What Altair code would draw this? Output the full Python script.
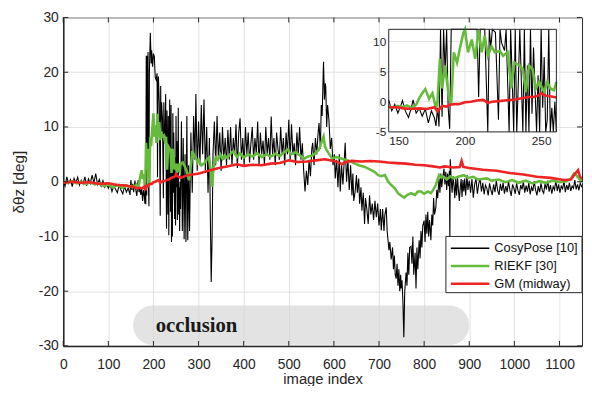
import altair as alt
import pandas as pd

COSY = "CosyPose [10]"
RIEKF = "RIEKF [30]"
GM = "GM (midway)"
series_names = [COSY, RIEKF, GM]
series_colors = ["#000000", "#66bb3c", "#ee2424"]

cosy_points = [
    (0,0.2),(4,-0.8),(8,0.9),(12,-0.3),(16,0.4),(20,-0.9),(24,0.6),(28,-0.2),(32,0.8),(36,-0.6),
    (40,0.3),(44,-0.4),(48,0.9),(52,-0.7),(56,0.5),(60,-0.3),(64,1.2),(68,-0.2),(72,1.5),(76,-0.5),
    (80,0.4),(84,-0.8),(88,0.2),(92,-1.0),(96,-0.3),(100,-1.2),(104,-0.5),(108,-1.8),(112,-0.7),(116,-1.4),
    (120,-2.0),(124,-0.6),(128,-1.5),(132,-2.2),(136,-0.8),(140,-1.9),(144,-1.1),(148,-2.4),
    (150,0.3),(152,-1.5),(154,-0.4),(156,-1.9),(158,-0.6),(159,0.2),(161,-1.6),(163,-2.6),(165,-0.8),(166,0.3),
    (168,-1.9),(170,-1.1),(172,-2.4),(174,-1.2),(176,-3.5),(178,-1.5),(180,-2.7),(181,-4.0),(182,-1.0),(183,-4.1),
    (184,23.0),(185,-2.5),(186,23.0),(187,5.0),(188,23.7),(189,-1.0),(190,-4.5),(191,20.0),(193,27.2),(195,21.6),
    (196,24.0),(198,21.0),(200,23.4),(202,22.8),(204,19.0),(206,18.6),(208,19.8),(209,0.8),(210,17.5),(211,19.2),
    (213,14.0),(215,-6.2),(216,17.5),(217,9.0),(218,14.5),(220,11.5),(222,-3.0),(223,14.5),(224,9.8),(226,8.5),
    (227,16.0),(229,-8.6),(230,13.0),(231,4.0),(232,-6.0),(233,12.0),(234,-9.8),(235,3.0),(236,15.0),(238,-5.5),
    (239,14.0),(240,-11.0),(241,6.0),(242,-10.0),(243,12.5),(244,-2.0),(245,9.0),(247,-6.8),(248,4.4),(249,-8.0),
    (250,12.0),(251,-1.0),(252,7.4),(253,-7.0),(254,-3.0),(255,13.5),(256,-6.0),(257,-1.0),(258,-9.0),(259,0.0),
    (260,-5.0),(262,11.0),(264,-9.0),(266,8.0),(268,-10.5),(270,5.0),(272,-11.0),(274,12.0),(276,-10.7),(278,3.0),
    (280,-9.0),(283,9.0),(286,-2.0),(289,12.0),(292,4.0),(294,16.0),(297,2.0),(300,11.0),(303,3.0),(306,14.0),
    (309,5.0),(312,15.0),(315,2.0),(318,10.0),(321,-2.0),(324,8.0),(326,-6.0),(328,-18.3),(330,-10.0),(332,5.0),
    (335,11.0),(338,3.0),(341,12.0),(344,4.0),(347,9.0),(350,2.0),(353,10.0),(356,4.0),(359,8.0),(362,3.0),
    (365,9.5),(368,4.0),(371,10.0),(374,3.0),(377,8.0),(380,5.0),(383,10.5),(386,2.5),(389,9.0),(392,11.6),
    (395,4.0),(398,8.0),(401,3.0),(404,10.0),(407,5.0),(410,9.0),(413,3.5),(416,7.0),(419,10.0),(422,4.0),
    (425,8.0),(428,5.0),(431,11.0),(434,3.0),(437,9.0),(440,5.0),(443,7.5),(446,3.0),(449,10.0),(452,5.0),
    (455,8.0),(458,4.0),(461,11.9),(464,5.0),(467,8.0),(470,3.0),(473,9.0),(476,6.0),(479,4.0),(482,10.0),
    (485,5.0),(488,8.0),(491,3.0),(494,9.0),(497,5.0),(500,11.3),(503,4.0),(506,10.5),(509,5.0),(512,7.0),
    (515,3.0),(518,9.0),(521,5.0),(524,10.0),(527,4.0),(530,7.0),(533,2.0),(536,-1.8),(539,2.0),(542,-0.6),
    (545,4.0),(548,1.0),(551,6.0),(553,7.1),(556,3.0),(559,8.0),(562,5.0),(565,9.0),(567,10.7),(570,6.0),
    (572,14.0),(574,12.0),(576,19.0),(577,21.9),(579,15.0),(581,18.0),(582,17.2),(584,10.0),(586,14.0),(589,11.3),
    (592,6.0),(595,8.0),(598,3.0),(601,5.0),(603,0.6),(606,4.0),(609,-1.0),(612,5.0),(614,-1.8),(617,3.0),
    (620,-0.5),(623,4.0),(625,7.1),(628,0.0),(631,4.0),(634,-1.5),(637,3.0),(640,-2.5),(642,1.5),(644,-3.5),
    (647,-1.8),(650,1.2),(652,-2.0),(655,0.6),(657,-4.0),(660,-1.0),(662,-5.3),(665,-2.0),(668,-7.7),(670,-3.0),
    (673,-5.0),(676,-7.7),(679,-2.5),(682,-6.0),(685,-4.0),(688,-7.0),(691,-3.5),(694,-6.5),(697,-4.0),(700,-8.0),
    (703,-5.0),(705,-8.9),(708,-5.0),(711,-9.0),(713,-6.0),(716,-4.7),(718,-9.0),(720,-10.7),(722,-12.5),(724,-11.0),
    (727,-14.2),(730,-12.0),(732,-16.0),(734,-13.5),(736,-17.0),(738,-17.7),(740,-15.0),(742,-19.0),(744,-16.0),(746,-20.0),
    (748,-17.0),(749,-19.5),(751,-18.0),(753,-22.0),(755,-28.4),(757,-20.0),(760,-16.6),(762,-19.0),(764,-13.0),(766,-17.0),
    (768,-12.0),(771,-11.8),(773,-15.0),(775,-10.0),(777,-17.0),(780,-13.0),(782,-19.5),(784,-12.0),(786,-16.0),(789,-10.7),
    (791,-14.0),(793,-9.0),(795,-12.0),(797,-8.0),(800,-7.1),(802,-11.0),(804,-6.0),(806,-9.5),(808,-5.5),(810,-10.0),
    (812,-7.0),(815,-10.7),(817,-6.0),(819,-8.0),(821,-3.0),(823,-6.0),(826,-4.7),(828,-1.5),(830,-3.0),(833,0.6),
    (835,-2.0),(837,1.5),(839,-1.0),(841,0.5),(844,2.4),(846,-0.5),(848,1.8),(850,-1.5),(852,1.5),(854,-0.8),
    (856,2.0),(857,-10.7),(858,4.1),(860,0.5),(862,-2.0),(864,1.0),(866,-0.6),(868,-3.0),(870,0.5),(872,-2.5),
    (874,0.8),(876,-1.5),(878,-3.5),(880,-1.2),(882,0.5),(884,-2.8),(886,0.3),(888,-1.8),(890,0.6),(892,-2.5),
    (895,1.2),(897,-1.5),(900,0.2),(903,-2.0),(906,0.5),(909,-2.9),(912,-0.5),(915,0.6),(918,-2.2),(921,-0.4),
    (924,0.6),(927,-1.8),(930,-0.2),(933,-2.3),(936,-0.6),(939,-1.2),(942,-2.5),(945,-0.3),(948,-1.5),(951,-2.4),
    (954,-0.5),(957,-1.9),(960,0.2),(963,-1.6),(966,-2.4),(969,-0.4),(972,-1.7),(975,-0.2),(978,-2.2),(981,-0.8),
    (984,-1.9),(987,0.1),(990,-1.5),(993,-2.6),(996,-0.5),(999,-1.2),(1002,-2.2),(1005,-0.3),(1008,-1.6),(1011,-2.4),
    (1014,-0.6),(1017,-1.4),(1020,0.0),(1023,-2.0),(1026,-0.7),(1029,-1.8),(1032,-0.2),(1035,-2.3),(1038,-1.0),(1041,-1.7),
    (1044,0.1),(1047,-1.5),(1050,-2.5),(1053,-0.8),(1056,-1.9),(1059,-0.3),(1062,-1.6),(1065,-2.1),(1068,-0.4),(1071,-1.4),
    (1074,0.2),(1077,-1.8),(1080,-0.6),(1083,-2.2),(1086,-0.9),(1089,-1.5),(1092,0.3),(1095,-1.7),(1098,-0.5),(1101,-2.0),
    (1104,-0.8),(1107,-1.3),(1110,0.1),(1113,-1.9),(1116,-0.6),(1119,-1.5),(1122,-0.2),(1125,-1.7),(1128,-0.8),(1131,-1.2),
    (1134,0.3),(1137,-1.4),(1140,-0.5),(1143,-1.6),(1146,-0.3),(1150,-1.0),
]

riekf_points = [
    (0,0.0),(10,-0.2),(20,0.1),(30,-0.3),(40,0.0),(50,-0.4),(60,-0.1),(70,-0.5),(80,-0.3),(90,-0.8),
    (100,-0.5),(110,-1.0),(120,-0.6),(130,-1.1),(140,-0.7),(145,-0.9),
    (150,-0.8),(153,-1.0),(156,-0.7),(159,-0.9),(162,-0.6),(165,-1.0),(168,-0.5),(170,0.6),(172,1.4),(174,2.1),
    (176.5,0.5),(178.7,1.4),(181,-1.1),(182,0.0),(183.6,7.1),(185,2.2),(187,6.0),(189.4,0.8),(191,-0.3),(192.7,8.2),
    (194.8,6.5),(197,9.2),(199,11.4),(200,12.5),(202,8.2),(204.5,10.3),(206.7,7.1),(209,12.4),(211,8.2),(213,10.9),
    (215,7.6),(217.5,9.2),(219.6,8.2),(223,8.4),(225,7.6),(228,8.2),(230.4,2.2),(232.5,6.5),(235.8,6.0),(238,5.4),
    (240,1.6),(242,6.0),(244.4,5.4),(246.6,2.2),(248.7,3.3),(252,1.6),(254,3.3),(256,2.2),(258.4,1.9),(260,3.3),
    (265,3.5),(270,2.7),(275,1.5),(279,0.3),(283,3.0),(286,5.6),(290,4.8),(294,4.4),(298,3.5),(301,3.9),
    (306,3.0),(312,3.3),(318,4.0),(323,4.4),(327,2.0),(330,-0.9),(333,2.5),(338,4.4),(343,4.0),(348,5.0),
    (353,4.2),(358,4.8),(363,4.4),(370,5.0),(377,5.6),(385,4.5),(392,5.2),(400,4.4),(410,5.0),(420,4.6),
    (430,5.2),(440,4.5),(450,5.0),(460,4.6),(470,5.1),(480,4.7),(490,5.4),(498,5.9),(505,5.0),(515,5.4),
    (525,4.8),(534,4.2),(543,4.6),(553,4.8),(560,5.3),(566,5.8),(570,6.5),(574,7.7),(577,8.3),(580,6.5),
    (583,5.9),(590,5.0),(596,4.2),(605,4.5),(618,4.2),(630,3.9),(640,3.6),(647,3.3),(655,3.0),(669,2.7),
    (676,2.4),(690,1.8),(698,1.2),(705,1.0),(713,1.2),(720,0.05),(727,-0.6),(735,-1.2),(742,-2.1),(750,-2.6),
    (756,-2.9),(763,-2.4),(771,-2.1),(780,-2.4),(786,-1.8),(793,-1.8),(800,-2.2),(808,-1.8),(815,-2.1),(820,-1.5),
    (826,-0.6),(833,1.2),(838,0.8),(844,0.9),(850,0.4),(858,1.0),(866,0.6),(875,0.9),(888,1.2),(898,0.7),
    (909,0.9),(920,0.4),(939,0.6),(950,0.2),(965,0.4),(980,-0.1),(995,0.3),(1010,-0.2),(1025,0.2),(1040,-0.3),
    (1055,0.1),(1070,-0.2),(1085,0.2),(1100,-0.1),(1115,0.1),(1125,0.5),(1132,1.5),(1137,1.2),(1143,0.6),(1150,0.0),
]

gm_points = [
    (0,-0.2),(20,0.0),(40,-0.2),(60,-0.1),(80,-0.4),(100,-0.3),(120,-0.6),(140,-0.7),
    (150,-0.9),(155,-0.9),(160,-1.1),(165,-1.2),(170,-1.1),(175,-1.2),(180,-0.9),(182,-1.6),(185,-0.7),(188,-0.8),
    (190,-0.5),(193,-0.4),(196,-0.4),(200,-0.1),(204,0.0),(208,0.2),(212,0.3),(215,-0.2),(218,0.0),(222,0.1),
    (226,0.2),(230,0.3),(234,0.4),(238,0.6),(242,0.8),(245,0.8),(248,1.0),(250,1.4),(253,1.0),(256,0.9),(260,0.7),
    (276,1.2),(301,1.5),(326,2.1),(345,2.5),(363,2.8),(385,3.2),(400,2.9),(420,3.1),(440,3.0),(460,3.3),
    (480,3.4),(500,3.9),(520,3.6),(540,3.7),(560,3.9),(580,4.1),(600,3.8),(610,3.5),(618,3.2),(625,3.6),
    (640,3.8),(660,3.7),(680,3.8),(700,3.7),(720,3.5),(740,3.4),(760,3.3),(780,3.1),(800,3.0),(820,2.8),
    (835,2.6),(845,2.8),(865,2.6),(879,2.7),(883,3.8),(887,2.7),(900,2.5),(930,2.2),(960,2.0),(990,1.6),
    (1020,1.3),(1050,0.9),(1080,0.7),(1110,0.3),(1125,0.4),(1135,1.5),(1141,2.1),(1145,1.0),(1150,0.5),
]

x_ticks = [0, 100, 200, 300, 400, 500, 600, 700, 800, 900, 1000, 1100]
y_ticks = [-30, -20, -10, 0, 10, 20, 30]
inset_x_ticks = [150, 200, 250]
inset_y_ticks = [-5, 0, 5, 10]
inset_x_domain = [150, 260]
inset_y_domain = [-5, 12]
occlusion_label = ["occlusion"]
occlusion_span = [155, 900]
occlusion_y = [-22.6, -29.8]

frames = []
for name, pts in [(COSY, cosy_points), (RIEKF, riekf_points), (GM, gm_points)]:
    frames.append(pd.DataFrame({"x": [p[0] for p in pts], "y": [p[1] for p in pts], "s": name}))
long = pd.concat(frames, ignore_index=True)

W, H = 526, 333
TOP = 7
FONT = "Liberation Sans"
DARK = "#262626"
GRID = "#e2e2e2"
line_widths = [1.1, 2.6, 2.6]

xs = alt.Scale(domain=[0, 1150], nice=False, zero=False)
ys = alt.Scale(domain=[-30, 30], nice=False, zero=False)

x_axis = alt.Axis(values=x_ticks, title="image index", grid=True, gridColor=GRID, ticks=False,
                  labelFlush=False, labelPadding=12, titlePadding=0, titleFontSize=15,
                  domainColor=DARK, domainWidth=1.5, labelExpr="datum.value + ''")
y_axis = alt.Axis(values=y_ticks, title="δθz [deg]", grid=True, gridColor=GRID, ticks=False,
                  labelPadding=5, titlePadding=12, domainColor=DARK, domainWidth=1.5,
                  labelExpr="datum.value + ''")

def X(f):
    return alt.X(f"{f}:Q", scale=xs, axis=x_axis)

def Y(f):
    return alt.Y(f"{f}:Q", scale=ys, axis=y_axis)

occ_df = pd.DataFrame({"x0": [occlusion_span[0]], "x1": [occlusion_span[1]],
                       "y0": [occlusion_y[0]], "y1": [occlusion_y[1]],
                       "tx": [205], "ty": [-26.3], "label": occlusion_label})

occ_rect = alt.Chart(occ_df).mark_rect(cornerRadius=20, color="#d4d4d4", opacity=0.65).encode(
    x=X("x0"), x2="x1", y=Y("y0"), y2="y1")
occ_text = alt.Chart(occ_df).mark_text(font="Liberation Serif", fontWeight="bold", fontSize=21,
                                       align="left", baseline="middle", color="#1a1a1a").encode(
    x=X("tx"), y=Y("ty"), text="label:N")

def series_layer(name, color, width):
    return alt.Chart(long).transform_filter(alt.datum.s == name).mark_line(
        strokeWidth=width, clip=True, color=color).encode(x=X("x"), y=Y("y"))

xt = pd.DataFrame({"t": x_ticks})
yt = pd.DataFrame({"t": y_ticks})
ticks = [
    alt.Chart(xt).mark_rule(color=DARK).encode(x=X("t"), y=alt.value(H), y2=alt.value(H - 5)),
    alt.Chart(xt).mark_rule(color=DARK).encode(x=X("t"), y=alt.value(0), y2=alt.value(5)),
    alt.Chart(yt).mark_rule(color=DARK).encode(y=Y("t"), x=alt.value(0), x2=alt.value(5)),
    alt.Chart(yt).mark_rule(color=DARK).encode(y=Y("t"), x=alt.value(W), x2=alt.value(W - 5)),
]

# ---- legend box (drawn as marks) ----
LX0, LX1, LY0, LY1 = 388, 526, 237 - 8 - TOP, 294 - 8 - TOP
one = pd.DataFrame({"k": [0]})
legend_layers = [
    alt.Chart(one).mark_rect(fill="white", stroke=DARK, strokeWidth=1).encode(
        x=alt.value(LX0), x2=alt.value(LX1), y=alt.value(LY0), y2=alt.value(LY1))
]
for i, (name, color, lw) in enumerate(zip(series_names, series_colors, [1.5, 2.5, 2.5])):
    ry = LY0 + 12 + 18 * i
    legend_layers.append(alt.Chart(one).mark_rule(color=color, strokeWidth=lw).encode(
        x=alt.value(LX0 + 5), x2=alt.value(LX0 + 44), y=alt.value(ry)))
    legend_layers.append(alt.Chart(one).mark_text(align="left", baseline="middle", font=FONT,
                                                  fontSize=13, color="#111111").encode(
        x=alt.value(LX0 + 49), y=alt.value(ry), text=alt.value(name)))

main = alt.layer(occ_rect, occ_text,
                 *[series_layer(n, c, w) for n, c, w in zip(series_names, series_colors, line_widths)],
                 *ticks, *legend_layers)

# ---- inset ----
IY_TOP, IY_BOT = 27 - 8 - TOP, 131 - 8 - TOP
ixs = alt.Scale(domain=inset_x_domain, range=[330, 500], nice=False, zero=False)
iys = alt.Scale(domain=inset_y_domain, range=[IY_BOT, IY_TOP], nice=False, zero=False, clamp=True)
ix_axis = alt.Axis(orient="bottom", offset=-(H - IY_BOT), values=inset_x_ticks, grid=False, domain=False,
                   ticks=False, labelFlush=True, labelFontSize=12, labelPadding=4, title=None, zindex=1)
iy_axis = alt.Axis(orient="left", offset=-330, values=inset_y_ticks, grid=False, domain=False,
                   ticks=False, labelFontSize=12, labelPadding=3, title=None, zindex=1,
                   labelExpr="datum.value + ''")

def IX(f):
    return alt.X(f"{f}:Q", scale=ixs, axis=ix_axis)

def IY(f):
    return alt.Y(f"{f}:Q", scale=iys, axis=iy_axis)

box_df = pd.DataFrame({"x0": [inset_x_domain[0]], "x1": [inset_x_domain[1]],
                       "y0": [inset_y_domain[0]], "y1": [inset_y_domain[1]]})
ixg = pd.DataFrame({"t": inset_x_ticks[1:], "a": inset_y_domain[0], "b": inset_y_domain[1]})
iyg = pd.DataFrame({"t": inset_y_ticks[1:], "a": inset_x_domain[0], "b": inset_x_domain[1]})

inset_bg = alt.Chart(box_df).mark_rect(color="white").encode(x=IX("x0"), x2="x1", y=IY("y0"), y2="y1")
inset_gx = alt.Chart(ixg).mark_rule(color=GRID).encode(x=IX("t"), y=IY("a"), y2="b")
inset_gy = alt.Chart(iyg).mark_rule(color=GRID).encode(y=IY("t"), x=IX("a"), x2="b")

def inset_series(name, color, width):
    return alt.Chart(long).transform_filter(
        (alt.datum.s == name) & (alt.datum.x >= inset_x_domain[0]) & (alt.datum.x <= inset_x_domain[1])
    ).mark_line(strokeWidth=width, color=color).encode(x=IX("x"), y=IY("y"))

inset_frame = alt.Chart(box_df).mark_rect(fillOpacity=0, stroke=DARK, strokeWidth=1).encode(
    x=IX("x0"), x2="x1", y=IY("y0"), y2="y1")

inset = alt.layer(inset_bg, inset_gx, inset_gy,
                  *[inset_series(n, c, w) for n, c, w in zip(series_names, series_colors, line_widths)],
                  inset_frame)

chart = alt.layer(main, inset).resolve_scale(x="independent", y="independent").properties(
    width=W, height=H, autosize=alt.AutoSizeParams(type="none"),
    padding={"left": 56, "top": TOP, "right": 2, "bottom": 38}
).configure_view(stroke=DARK, strokeWidth=1).configure_axis(
    labelFont=FONT, labelFontSize=14, labelColor=DARK, titleFont=FONT, titleFontSize=15.5,
    titleFontWeight="normal", titleColor=DARK
)

chart.save("out.html", embed_options={"renderer": "svg", "actions": False})
